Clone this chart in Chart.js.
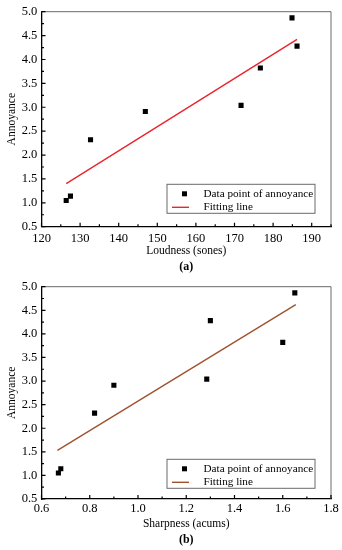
<!DOCTYPE html>
<html>
<head>
<meta charset="utf-8">
<script src="https://cdn.jsdelivr.net/npm/chart.js@4.4.0/dist/chart.umd.min.js"></script>
<style>
  html, body { margin: 0; padding: 0; background: #fff; }
  canvas { display: block; }
</style>
</head>
<body>
<canvas id="chartA" width="342" height="275"></canvas>
<canvas id="chartB" width="342" height="275"></canvas>
<script>
// Values
const annoyance = [1.05, 1.14, 2.32, 2.91, 3.04, 3.82, 4.87, 4.28];
const loudness = [126.4, 127.5, 132.7, 146.9, 171.7, 176.7, 184.9, 186.2];
const sharpness = [0.67, 0.68, 0.82, 0.90, 1.285, 1.60, 1.65, 1.30];

const loudnessFitX = [126.4, 186.2];
const loudnessFitY = [1.40, 4.42];
const sharpnessFitX = [0.666, 1.654];
const sharpnessFitY = [1.53, 4.62];

const legendLabels = ['Data point of annoyance', 'Fitting line'];
const FONT = "'Liberation Serif', 'Times New Roman', serif";

const toPoints = (xs, ys) => xs.map((v, i) => ({ x: v, y: ys[i] }));

// Inward major/minor ticks plus the grey top/right frame
const innerTicks = {
    id: 'innerTicks',
    afterDraw(chart) {
        const { ctx, chartArea: a, scales } = chart;
        ctx.save();
        ctx.strokeStyle = '#6a6a6a';
        ctx.lineWidth = 1;
        ctx.beginPath();
        ctx.moveTo(a.left, a.top);
        ctx.lineTo(a.right, a.top);
        ctx.lineTo(a.right, a.bottom);
        ctx.stroke();

        ctx.strokeStyle = '#000';
        ctx.lineWidth = 1.2;
        ['x', 'y'].forEach(id => {
            const scale = scales[id];
            const vals = scale.ticks.map(t => t.value);
            const step = vals[1] - vals[0];
            const marks = [];
            vals.forEach(v => {
                marks.push([v, 4]);
                if (v + step / 2 <= scale.max + 1e-9) marks.push([v + step / 2, 2.5]);
            });
            ctx.beginPath();
            marks.forEach(([v, len]) => {
                const p = scale.getPixelForValue(v);
                if (id === 'x') {
                    ctx.moveTo(p, a.bottom);
                    ctx.lineTo(p, a.bottom - len);
                } else {
                    ctx.moveTo(a.left, p);
                    ctx.lineTo(a.left + len, p);
                }
            });
            ctx.stroke();
        });
        ctx.restore();
    }
};

// Boxed legend in the lower right of the plot
const boxLegend = {
    id: 'boxLegend',
    afterDraw(chart) {
        const { ctx, chartArea: a } = chart;
        const opts = chart.options.plugins.boxLegend;
        const w = 148, h = 29;
        const left = a.right - 16 - w;
        const top = a.bottom - opts.bottomGap - h;
        ctx.save();
        ctx.fillStyle = '#fff';
        ctx.fillRect(left, top, w, h);
        ctx.strokeStyle = '#6a6a6a';
        ctx.lineWidth = 1;
        ctx.strokeRect(left, top, w, h);

        const [pts, fit] = chart.data.datasets;
        const row1 = top + 9.5, row2 = top + 23;
        ctx.fillStyle = pts.backgroundColor;
        ctx.fillRect(left + 15, row1 - 2.5, 5, 5);
        ctx.strokeStyle = fit.borderColor;
        ctx.lineWidth = fit.borderWidth;
        ctx.beginPath();
        ctx.moveTo(left + 5, row2);
        ctx.lineTo(left + 22, row2);
        ctx.stroke();

        ctx.fillStyle = '#000';
        ctx.font = '11.2px ' + FONT;
        ctx.textBaseline = 'middle';
        ctx.fillText(pts.label, left + 36.5, row1);
        ctx.fillText(fit.label, left + 36.5, row2);
        ctx.restore();
    }
};

function makeChart(id, p) {
    const ctx = document.getElementById(id).getContext('2d');
    return new Chart(ctx, {
        type: 'scatter',
        data: {
            datasets: [{
                label: legendLabels[0],
                data: toPoints(p.xs, annoyance),
                backgroundColor: '#000',
                pointStyle: 'rect',
                pointRadius: 3.6,
                pointBorderWidth: 0,
                showLine: false
            }, {
                label: legendLabels[1],
                data: toPoints(p.fitX, p.fitY),
                borderColor: p.fitColor,
                borderWidth: 1.4,
                pointRadius: 0,
                showLine: true,
                tension: 0
            }]
        },
        options: {
            responsive: false,
            animation: false,
            devicePixelRatio: 1,
            layout: { padding: { top: p.top, right: 11, left: 0, bottom: 0 } },
            plugins: {
                legend: { display: false },
                tooltip: { enabled: false },
                title: {
                    display: true,
                    position: 'bottom',
                    fullSize: false,
                    text: p.caption,
                    color: '#000',
                    font: { family: FONT, size: 12, weight: 'bold' },
                    padding: { top: 0, bottom: p.capPad }
                },
                boxLegend: { bottomGap: p.legendGap }
            },
            scales: {
                x: {
                    type: 'linear',
                    min: p.xMin,
                    max: p.xMax,
                    afterFit: s => { s.height = p.xHeight; },
                    grid: { display: false, drawTicks: false },
                    border: { color: '#000', width: 1.3 },
                    ticks: {
                        stepSize: p.xStep,
                        includeBounds: false,
                        padding: p.tickPad,
                        color: '#000',
                        font: { family: FONT, size: 12.5 },
                        maxRotation: 0,
                        callback: v => v.toFixed(p.xDigits)
                    },
                    title: {
                        display: true,
                        text: p.xTitle,
                        color: '#000',
                        font: { family: FONT, size: 11.5 },
                        padding: { top: 0, bottom: 1.8 }
                    }
                },
                y: {
                    min: 0.5,
                    max: 5.0,
                    afterFit: s => { s.width = 41.5; },
                    grid: { display: false, drawTicks: false },
                    border: { color: '#000', width: 1.3 },
                    ticks: {
                        stepSize: 0.5,
                        padding: 4.2,
                        color: '#000',
                        font: { family: FONT, size: 12.5 },
                        callback: v => v.toFixed(1)
                    },
                    title: {
                        display: true,
                        text: 'Annoyance',
                        color: '#000',
                        font: { family: FONT, size: 11.5 },
                        padding: { top: 5.5, bottom: 0 }
                    }
                }
            }
        },
        plugins: [innerTicks, boxLegend]
    });
}

makeChart('chartA', {
    xs: loudness, fitX: loudnessFitX, fitY: loudnessFitY, fitColor: '#e8262c',
    xMin: 120, xMax: 195, xStep: 10, xDigits: 0, xTitle: 'Loudness (sones)',
    caption: '(a)', top: 11, xHeight: 32.8, capPad: 1.1, tickPad: 4.8, legendGap: 13.4
});

makeChart('chartB', {
    xs: sharpness, fitX: sharpnessFitX, fitY: sharpnessFitY, fitColor: '#a0522d',
    xMin: 0.6, xMax: 1.8, xStep: 0.2, xDigits: 1, xTitle: 'Sharpness (acums)',
    caption: '(b)', top: 9, xHeight: 33.8, capPad: 2.8, tickPad: 2.5, legendGap: 10.7
});
</script>
</body>
</html>
